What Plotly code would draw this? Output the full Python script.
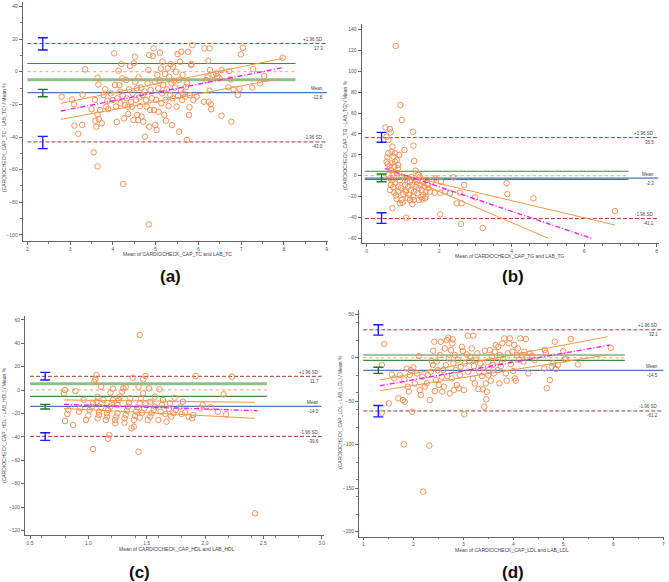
import plotly.graph_objects as go

W, H = 669, 582

# ---------------- Panel (a): TC ----------------
a_x = [2.80, 3.04, 3.09, 3.10, 3.19, 3.28, 3.29, 3.35, 3.50, 3.55, 3.58, 3.59, 3.61, 3.64, 3.64, 3.66, 3.64, 3.67,
       3.70, 3.74, 3.78, 3.82, 3.84, 3.87, 3.89, 3.95, 4.00, 4.03, 4.05, 4.07, 4.09, 4.10, 4.13, 4.15, 4.17, 4.18,
       4.20, 4.22, 4.23, 4.24, 4.26, 4.28, 4.31, 4.32, 4.35, 4.36, 4.38, 4.40, 4.42, 4.44, 4.46, 4.48, 4.49, 4.51,
       4.52, 4.54, 4.56, 4.57, 4.59, 4.60, 4.62, 4.63, 4.66, 4.67, 4.70, 4.71, 4.74, 4.75, 4.77, 4.79, 4.81, 4.83,
       4.84, 4.85, 4.85, 4.87, 4.88, 4.91, 4.93, 4.95, 4.96, 4.98, 4.99, 5.01, 5.02, 5.04, 5.06, 5.07, 5.09, 5.10,
       5.12, 5.13, 5.15, 5.16, 5.18, 5.20, 5.22, 5.23, 5.24, 5.26, 5.28, 5.30, 5.31, 5.34, 5.35, 5.37, 5.38, 5.40,
       5.41, 5.43, 5.45, 5.47, 5.49, 5.51, 5.52, 5.54, 5.55, 5.57, 5.59, 5.60, 5.62, 5.63, 5.65, 5.69, 5.71, 5.73,
       5.74, 5.76, 5.78, 5.79, 5.80, 5.83, 5.84, 5.86, 5.88, 5.96, 6.13, 6.14, 6.18, 6.21, 6.23, 6.24, 6.26, 6.26,
       6.27, 6.29, 6.30, 6.35, 6.41, 6.44, 6.49, 6.54, 6.54, 6.70, 6.72, 6.75, 6.77, 6.82, 6.92, 6.96, 6.99, 7.04,
       7.26, 7.28, 7.44, 7.54, 7.97]
a_y = [-15.3, -17.0, -20.0, -33.0, -38.0, -32.6, -14.0, 1.4, -23.0, -49.4, -17.3, -30.0, -33.7, -3.7, -58.0, -7.8,
       -26.3, -29.0, -23.5, -31.6, -14.3, -10.8, -21.4, -17.8, -23.0, -13.3, -17.3, 11.2, -8.2, -21.4, -30.8, -16.3,
       0.6, -8.2, -12.2, -19.4, 4.7, -4.1, -14.7, -68.8, -28.6, -20.4, -5.1, -16.3, -21.4, -25.9, -10.8, 3.5, -18.4,
       -21.4, -13.3, -29.6, 5.1, 9.2, -6.1, -17.3, -10.2, -26.5, -29.6, -3.5, -15.7, -21.0, -9.8, -27.6, -14.3,
       -30.6, -12.2, -39.8, -17.3, -21.4, -7.1, 1.0, -93.5, 10.2, -33.7, -23.5, -11.2, -16.3, 9.6, 14.3, -23.5,
       -6.1, -32.7, -17.3, -35.7, -2.0, -10.2, -24.5, -5.1, 11.6, 2.0, -19.4, -13.3, 6.1, -8.2, -26.5, -1.4, -17.3,
       -30.0, -10.8, 2.0, -21.0, -3.1, -14.3, 4.7, -7.1, -32.7, -16.3, 3.1, -5.5, -9.6, 0.0, -21.4, 10.8, -14.9,
       -5.1, -36.7, 6.1, -11.2, 12.2, -17.3, -2.0, -13.3, -15.3, -9.2, -41.8, -7.1, 12.2, -26.5, -21.8, -14.3, 4.1,
       4.7, 16.3, -17.3, -15.3, -18.4, 14.3, -5.1, -3.5, 6.7, -18.4, 14.3, -11.6, 1.0, -20.0, -23.0, -2.0, -1.0,
       -2.7, -4.1, -26.9, 1.0, -9.6, 0.4, -4.7, -30.6, -10.8, -14.3, -10.6, 10.6, 14.7, -9.8, 1.6, -7.1, -2.7, 8.6]

# ---------------- Panel (b): TG ----------------
b_x = [0.80, 0.93, 0.97, 1.28, 1.29, 1.04, 1.31, 1.35, 0.52, 0.64, 0.66, 0.55, 0.60, 0.71, 0.60, 0.57, 0.55, 0.58,
       0.69, 0.74, 0.78, 0.83, 0.87, 0.90, 0.76, 0.67, 0.74, 0.86, 0.63, 0.78, 0.69, 0.83, 0.71, 0.67, 0.78, 0.64,
       0.76, 0.87, 0.92, 0.97, 0.86, 0.83, 0.71, 0.97, 1.01, 0.99, 1.06, 1.08, 1.10, 1.13, 1.15, 1.17, 1.20, 1.20,
       1.22, 1.24, 1.26, 1.28, 1.30, 1.31, 1.33, 1.35, 1.38, 1.40, 1.43, 1.44, 1.47, 1.48, 1.50, 1.52, 1.54, 1.56,
       1.59, 1.61, 1.63, 1.66, 1.68, 1.70, 1.75, 1.79, 1.87, 1.89, 2.05, 2.03, 2.03, 2.16, 2.30, 2.39, 2.48, 2.57,
       2.62, 2.60, 2.69, 2.99, 3.20, 3.86, 3.88, 4.60, 6.85, 1.09, 0.60, 0.64, 0.92, 1.26, 1.54, 1.63, 1.43, 0.95,
       1.12, 0.81, 0.73, 1.05]
b_y = [124.3, 67.7, 53.4, 42.2, 28.8, 24.6, 14.1, 4.8, 46.3, 44.7, 41.5, 37.4, 34.2, 27.8, 21.4, 17.6, 13.4, 11.2,
       23.0, 18.2, 21.4, 15.0, 10.2, 19.8, 8.6, 5.4, 2.2, 7.0, 9.3, 13.4, 11.8, 2.2, -4.2, -8.9, -7.3, -13.7, -16.3,
       -10.5, -4.2, -1.0, -15.3, -22.4, -31.3, -23.3, -17.6, -25.9, -8.9, -15.3, -2.6, -21.7, -10.5, -18.5, -5.8,
       -23.3, -13.7, -1.0, -8.9, -20.1, -23.3, -15.3, -4.2, -10.5, -5.8, -16.9, -12.1, -23.3, -1.0, -8.9, -20.1,
       -13.7, -5.8, -18.5, -10.5, -21.7, -15.3, -4.2, -8.9, -12.1, -15.3, -5.8, -16.3, -2.6, -5.8, -16.3, -37.1,
       -15.3, -16.9, -1.6, -26.5, -16.3, -26.5, -46.3, -8.9, -20.8, -50.2, -7.3, -17.6, -21.7, -33.9, -40.3, 0.6,
       -2.6, -26.5, -27.2, -22.7, -20.1, 0.6, -12.0, -6.0, -19.0, -11.0, -14.0]

# ---------------- Panel (c): HDL ----------------
c_x = [0.80, 0.79, 0.80, 0.82, 0.83, 0.87, 0.89, 0.92, 0.93, 0.96, 0.98, 1.00, 1.01, 1.03, 1.04, 1.04, 1.05, 1.06,
       1.07, 1.07, 1.08, 1.08, 1.09, 1.09, 1.11, 1.11, 1.12, 1.13, 1.15, 1.16, 1.16, 1.17, 1.17, 1.18, 1.19, 1.19,
       1.20, 1.21, 1.21, 1.23, 1.23, 1.24, 1.25, 1.25, 1.26, 1.27, 1.29, 1.30, 1.32, 1.31, 1.31, 1.32, 1.33, 1.34,
       1.35, 1.36, 1.37, 1.38, 1.39, 1.39, 1.40, 1.41, 1.42, 1.43, 1.44, 1.44, 1.43, 1.44, 1.45, 1.46, 1.47, 1.47,
       1.48, 1.49, 1.49, 1.51, 1.52, 1.53, 1.53, 1.54, 1.56, 1.57, 1.57, 1.60, 1.61, 1.62, 1.63, 1.64, 1.66, 1.67,
       1.69, 1.70, 1.71, 1.73, 1.74, 1.75, 1.79, 1.80, 1.81, 1.83, 1.86, 1.89, 1.90, 1.92, 1.96, 1.98, 2.05, 2.11,
       2.16, 2.18, 2.23, 2.43]
c_y = [0.0, -2.8, -26.5, -20.5, -17.1, -29.9, -0.9, -18.5, -15.7, -8.5, -25.6, -21.7, -17.1, -14.2, -11.4, -50.4,
       7.1, 9.1, 12.8, -10.0, -5.7, -24.2, -21.4, -18.5, -14.8, 2.8, -11.4, -8.5, -25.6, -22.8, -19.9, -41.6, -17.1,
       -38.5, -14.2, -2.3, -11.4, 1.1, -8.5, -28.5, -25.6, -22.8, -19.9, -12.8, -8.5, -5.7, -1.4, 1.4, 2.8, -27.9,
       -24.2, -21.4, -17.7, -14.2, -10.8, -7.1, -32.8, 10.5, -31.3, -25.6, -22.2, -18.5, -14.8, 2.8, -11.4, 47.0,
       -52.7, -23.6, -7.1, -19.4, -2.8, 9.1, -15.7, 12.0, -11.4, -25.6, 1.4, -10.0, -22.8, -19.9, -17.1, -5.7,
       -14.2, -25.6, 0.6, -18.5, -12.8, -8.5, -20.5, -27.1, -16.2, -11.4, -22.8, -19.9, -6.6, -17.1, -14.2, -20.5,
       -10.0, -19.1, -22.8, -24.2, -21.4, 12.0, -15.7, -12.8, -14.8, -18.5, -3.7, -20.8, 11.4, -105.4]

# ---------------- Panel (d): LDL ----------------
d_x = [1.37, 1.42, 1.37, 1.51, 1.57, 1.62, 1.70, 1.73, 1.79, 1.81, 1.82, 1.83, 1.87, 1.89, 1.91, 1.93, 1.95, 1.98,
       2.00, 2.03, 2.07, 2.11, 2.13, 2.15, 2.18, 2.20, 2.23, 2.27, 2.29, 2.32, 2.33, 2.35, 2.37, 2.39, 2.40, 2.42,
       2.43, 2.45, 2.47, 2.49, 2.51, 2.53, 2.55, 2.57, 2.58, 2.60, 2.61, 2.63, 2.65, 2.67, 2.68, 2.70, 2.71, 2.73,
       2.75, 2.77, 2.78, 2.79, 2.80, 2.81, 2.83, 2.85, 2.87, 2.89, 2.91, 2.93, 2.95, 2.97, 2.99, 3.01, 3.02, 3.03,
       3.07, 3.09, 3.10, 3.12, 3.14, 3.17, 3.19, 3.20, 3.21, 3.23, 3.26, 3.28, 3.30, 3.32, 3.34, 3.37, 3.39, 3.40,
       3.42, 3.43, 3.45, 3.46, 3.47, 3.49, 3.50, 3.51, 3.53, 3.55, 3.57, 3.59, 3.61, 3.63, 3.65, 3.67, 3.69, 3.70,
       3.72, 3.73, 3.75, 3.78, 3.80, 3.82, 3.85, 3.87, 3.89, 3.91, 3.93, 3.95, 3.98, 4.00, 4.02, 4.03, 4.05, 4.07,
       4.09, 4.11, 4.14, 4.17, 4.20, 4.22, 4.25, 4.27, 4.30, 4.33, 4.37, 4.43, 4.62, 4.63, 4.65, 4.67, 4.73, 4.77,
       4.80, 4.83, 4.85, 4.89, 5.00, 5.03, 5.05, 5.15, 5.29, 5.95]
d_y = [-8.4, 15.7, -63.2, -52.5, -19.2, -23.8, -46.7, -19.9, -48.7, -99.6, -24.9, -50.6, -12.3, -33.3, -39.1, -19.9,
       -14.2, -62.1, -11.1, -29.5, -18.0, 1.9, -37.2, -42.9, -21.8, -154.0, -33.3, -29.5, -19.9, -101.1, -48.7, -16.1,
       -3.8, -8.4, 8.0, 18.4, -38.3, -25.7, -4.6, -14.2, -31.4, 3.1, 18.4, -21.8, -39.1, -14.2, -33.3, 10.7, -8.4,
       20.3, -21.1, 23.0, -0.8, -41.0, 8.8, -23.8, 16.5, 21.1, -6.5, -37.2, 3.1, -14.2, -31.4, -2.7, -35.2, -19.9,
       -10.3, 12.6, 7.7, -37.2, -65.1, -6.5, 3.8, 25.3, -16.1, -3.8, 1.1, 10.7, -23.8, 25.3, -9.6, -29.5, -2.7, 5.0,
       -36.0, -16.1, -6.5, -21.1, -36.4, -11.1, -56.3, 8.0, -29.5, -47.9, -39.1, -4.6, -19.9, -14.2, 8.8, -26.4,
       1.1, -8.4, -18.0, 6.9, 14.6, -4.6, -14.2, 12.6, -29.5, 3.1, -9.6, 16.5, -1.9, 22.2, -18.0, -26.4, 5.0, 16.5,
       22.2, -7.3, 6.9, -15.3, 14.6, -23.8, -26.4, 3.1, 10.7, -2.7, 22.2, 3.1, -4.6, 6.9, 21.5, 1.1, -18.0, 5.0, 2.3,
       -2.7, -12.3, 8.8, 5.7, -35.2, -25.7, -10.3, -6.5, 18.4, -13.0, -8.4, 7.7, -1.9, -0.8, 21.5, -7.7, 11.5]

# Limits of agreement: [+1.96 SD, mean, -1.96 SD]
a_limits = [17.3, -12.8, -43.0]
b_limits = [36.5, -2.3, -41.1]
c_limits = [11.7, -14.0, -39.6]
d_limits = [32.1, -14.5, -61.2]

# 95% CI of upper limit, mean, lower limit: (x, low, high)
a_ci = [(2.36, 13.3, 20.8), (2.36, -15.3, -10.8), (2.36, -47.1, -39.6)]
b_ci = [(0.41, 32.0, 41.5), (0.41, -5.8, 1.6), (0.41, -45.7, -35.5)]
c_ci = [(0.63, 8.5, 15.1), (0.63, -16.2, -12.3), (0.63, -43.0, -36.5)]
d_ci = [(1.30, 26.0, 38.0), (1.30, -18.0, -11.0), (1.30, -68.0, -55.0)]

# Green reference lines
a_green = [5.0, -5.0]
b_green = [4.3, -3.5]
c_green = [5.4, -5.4]
d_green = [3.1, -3.0]

# Regression lines: (x0, y0, x1, y1) for upper orange, magenta, lower orange
a_reg = [(2.78, -19.4, 7.98, 8.2), (2.78, -24.1, 7.97, 2.45), (2.78, -29.2, 7.90, -4.3)]
b_reg = [(0.55, 4.4, 6.85, -47.3), (0.50, 7.0, 6.20, -60.0), (0.55, 6.5, 5.01, -60.0)]
c_reg = [(0.79, -8.5, 2.43, -10.5), (0.79, -12.3, 2.45, -17.7), (0.79, -15.7, 2.43, -24.2)]
d_reg = [(1.33, -25.6, 5.88, 24.1), (1.33, -32.2, 5.93, 14.6), (1.33, -37.9, 5.87, 3.1)]

a_xt = [2, 3, 4, 5, 6, 7, 8, 9]
b_xt = [0, 2, 4, 6, 8]
c_xt = [0.5, 1.0, 1.5, 2.0, 2.5, 3.0]
c_xtl = ["0.5", "1.0", "1.5", "2.0", "2.5", "3.0"]
d_xt = [1, 2, 3, 4, 5, 6, 7]
a_yt = [40, 20, 0, -20, -40, -60, -80, -100]
b_yt = [140, 120, 100, 80, 60, 40, 20, 0, -20, -40, -60]
c_yt = [60, 40, 20, 0, -20, -40, -60, -80, -100, -120]
d_yt = [50, 0, -50, -100, -150, -200]

names = ["TC", "TG", "HDL", "LDL"]
letters = ["(a)", "(b)", "(c)", "(d)"]

# layout (pixel boxes and ranges)
panels = [
    dict(x=a_x, y=a_y, lim=a_limits, ci=a_ci, green=a_green, reg=a_reg, xt=a_xt, xtl=None, yt=a_yt,
         box=(22.7, 328.0, 1.5, 241.0), xr=[1.89, 9.03], yr=[-103.7, 43], xs=2.0, xg=8.27, xe=9.0,
         thick=1, xtitle=(177, 254), ytitle=(4, 138), lab=(170, 276), lx=0.99),
    dict(x=b_x, y=b_y, lim=b_limits, ci=b_ci, green=b_green, reg=b_reg, xt=b_xt, xtl=None, yt=b_yt,
         box=(361.6, 658.5, 24.4, 243.3), xr=[-0.14, 8.05], yr=[-64.8, 145], xs=-0.05, xg=7.22, xe=8.05,
         thick=None, xtitle=(510, 256), ytitle=(345, 135), lab=(513, 276), lx=0.99),
    dict(x=c_x, y=c_y, lim=c_limits, ci=c_ci, green=c_green, reg=c_reg, xt=c_xt, xtl=c_xtl, yt=c_yt,
         box=(25.0, 324.0, 316.3, 535.1), xr=[0.457, 3.02], yr=[-124, 63], xs=0.5, xg=2.53, xe=3.0,
         thick=0, xtitle=(177, 549), ytitle=(4, 425), lab=(139, 572), lx=0.99),
    dict(x=d_x, y=d_y, lim=d_limits, ci=d_ci, green=d_green, reg=d_reg, xt=d_xt, xtl=None, yt=d_yt,
         box=(359.0, 664.3, 309.9, 536.7), xr=[0.914, 7.02], yr=[-205.8, 55], xs=1.0, xg=6.23, xe=7.0,
         thick=None, xtitle=(512, 550), ytitle=(340, 412), lab=(513, 572), lx=0.985),
]

ORANGE = "#F59258"
SDRED = "#A33A34"
MEANBLUE = "#4A78B8"
GREEN = "#3E8B3E"
LGREEN = "#8DC08D"
MAG = "#FF1AFF"
TICKC = "#555555"
FONT = "Liberation Sans"

fig = go.Figure()
layout = dict(width=W, height=H, margin=dict(l=0, r=0, t=0, b=0), paper_bgcolor="white",
              plot_bgcolor="white", showlegend=False, hovermode=False)
annotations = []

for i, p in enumerate(panels):
    n = "" if i == 0 else str(i + 1)
    xa, ya = "x" + n, "y" + n
    l, r, t, b = p["box"]
    xd = [l / W, r / W]
    yd = [1 - b / H, 1 - t / H]
    xaxis = dict(domain=xd, range=p["xr"], anchor=ya, showline=True, linecolor="#666", linewidth=1,
                 ticks="outside", ticklen=2.5, tickwidth=1, tickcolor="#666", tickvals=p["xt"],
                 tickfont=dict(size=5, color=TICKC, family=FONT), showgrid=False, zeroline=False,
                 minor=dict(ticks="outside", ticklen=1.5, tickcolor="#777", nticks=5), mirror=False)
    if p["xtl"]:
        xaxis["ticktext"] = p["xtl"]
    yaxis = dict(domain=yd, range=p["yr"], anchor=xa, showline=True, linecolor="#666", linewidth=1,
                 ticks="outside", ticklen=3, tickwidth=1, tickcolor="#666", tickvals=p["yt"],
                 tickfont=dict(size=5, color=TICKC, family=FONT), showgrid=False, zeroline=False,
                 minor=dict(ticks="outside", ticklen=2, tickcolor="#777", nticks=3), mirror=False)
    layout["xaxis" + n] = xaxis
    layout["yaxis" + n] = yaxis

    # green reference lines
    for k, gy in enumerate(p["green"]):
        thick = (p["thick"] == k)
        fig.add_trace(go.Scatter(x=[p["xs"], p["xg"]], y=[gy, gy], mode="lines", xaxis=xa, yaxis=ya,
                                 line=dict(color=LGREEN if thick else GREEN, width=3 if thick else 1.1)))
    # zero line
    fig.add_trace(go.Scatter(x=[p["xs"], p["xg"]], y=[0, 0], mode="lines", xaxis=xa, yaxis=ya,
                             line=dict(color="#F4A070", width=1, dash="dot")))
    # mean and SD lines
    up, mn, lo = p["lim"]
    fig.add_trace(go.Scatter(x=[p["xs"], p["xe"]], y=[mn, mn], mode="lines", xaxis=xa, yaxis=ya,
                             line=dict(color=MEANBLUE, width=1.1)))
    for v in (up, lo):
        fig.add_trace(go.Scatter(x=[p["xs"], p["xe"]], y=[v, v], mode="lines", xaxis=xa, yaxis=ya,
                                 line=dict(color=SDRED, width=1, dash="4px,2px")))
    # scatter
    fig.add_trace(go.Scatter(x=p["x"], y=p["y"], mode="markers", xaxis=xa, yaxis=ya,
                             marker=dict(symbol="circle-open", size=5.5, color=ORANGE,
                                         line=dict(width=1, color=ORANGE))))
    # regression lines
    for k, (x0, y0, x1, y1) in enumerate(p["reg"]):
        if k == 1:
            ln = dict(color=MAG, width=1.4, dash="5px,2px,1px,2px")
        else:
            ln = dict(color="#F79646", width=1)
        fig.add_trace(go.Scatter(x=[x0, x1], y=[y0, y1], mode="lines", xaxis=xa, yaxis=ya, line=ln))
    # CI error bars
    for k, (cx, clo, chi) in enumerate(p["ci"]):
        col = "#1F7A1F" if k == 1 else "#1A1AFF"
        fig.add_trace(go.Scatter(x=[cx], y=[clo], mode="markers", xaxis=xa, yaxis=ya,
                                 marker=dict(size=1, color="rgba(0,0,0,0)"),
                                 error_y=dict(type="data", symmetric=False, array=[chi - clo], arrayminus=[0],
                                              color=col, thickness=1.4, width=5)))

    # right labels
    small = dict(size=4.5, color="#444", family=FONT)
    for txt, val, shift in [("+1.96 SD", up, 4), (f"{up:.1f}", up, -5), ("Mean", mn, 4),
                            (f"{mn:.1f}", mn, -5), ("-1.96 SD", lo, 4), (f"{lo:.1f}", lo, -5)]:
        annotations.append(dict(xref=xa + " domain", yref=ya, x=p["lx"], y=val, text=txt, showarrow=False,
                                xanchor="right", yanchor="middle", yshift=shift, font=small))
    # axis titles
    tf = dict(size=5, color="#444", family=FONT)
    annotations.append(dict(xref="paper", yref="paper", x=p["xtitle"][0] / W, y=1 - p["xtitle"][1] / H,
                            text=f"Mean of CARDIOCHECK_CAP_{names[i]} and LAB_{names[i]}", showarrow=False,
                            xanchor="center", yanchor="middle", font=tf))
    annotations.append(dict(xref="paper", yref="paper", x=p["ytitle"][0] / W, y=1 - p["ytitle"][1] / H,
                            text=f"(CARDIOCHECK_CAP_{names[i]} - LAB_{names[i]}) / Mean %", showarrow=False,
                            textangle=-90, xanchor="center", yanchor="middle", font=tf))
    annotations.append(dict(xref="paper", yref="paper", x=p["lab"][0] / W, y=1 - p["lab"][1] / H,
                            text="<b>" + letters[i] + "</b>", showarrow=False, xanchor="center",
                            yanchor="middle", font=dict(size=17, color="#111", family=FONT)))

layout["annotations"] = annotations
fig.update_layout(**layout)
fig.write_html("out.html", config={"displayModeBar": False, "staticPlot": True},
               post_script="document.body.style.margin='0';document.body.style.overflow='hidden';")
